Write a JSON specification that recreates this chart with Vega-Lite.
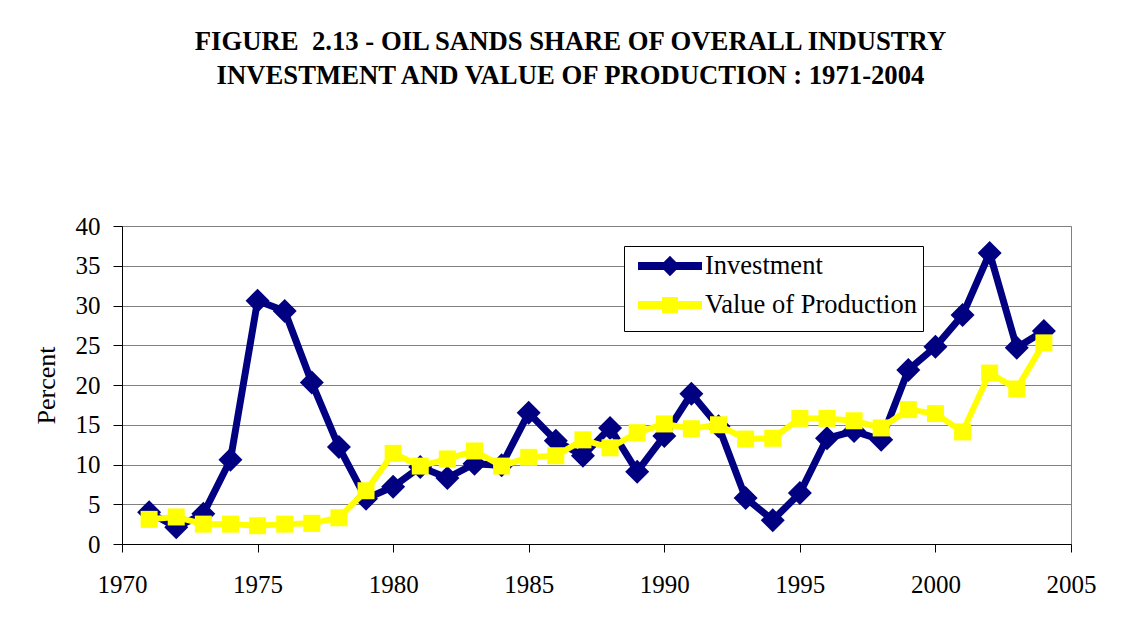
{
  "$schema": "https://vega.github.io/schema/vega-lite/v6.json",
  "autosize": {"type": "none"},
  "padding": {"left": 122, "top": 226, "right": 61, "bottom": 91},
  "width": 949,
  "height": 318,
  "background": "white",
  "title": {
    "text": ["FIGURE\u00a0 2.13 - OIL SANDS SHARE OF OVERALL INDUSTRY", "INVESTMENT AND VALUE OF PRODUCTION : 1971-2004"],
    "font": "Liberation Serif",
    "fontSize": 26.7,
    "fontWeight": "bold",
    "color": "black",
    "lineHeight": 34,
    "anchor": "middle",
    "dx": -26,
    "offset": 124
  },
  "config": {
    "view": {"stroke": "#808080", "strokeWidth": 1},
    "axis": {
      "labelFont": "Liberation Serif",
      "labelFontSize": 25,
      "labelColor": "black",
      "titleFont": "Liberation Serif",
      "titleFontSize": 26,
      "titleFontWeight": "normal",
      "titleColor": "black",
      "domainColor": "black",
      "tickColor": "black",
      "domainWidth": 1,
      "tickWidth": 1
    }
  },
  "data": {
    "values": [
      {"year": 1971, "series": "Investment", "value": 4.0},
      {"year": 1972, "series": "Investment", "value": 2.1},
      {"year": 1973, "series": "Investment", "value": 3.8},
      {"year": 1974, "series": "Investment", "value": 10.6},
      {"year": 1975, "series": "Investment", "value": 30.6},
      {"year": 1976, "series": "Investment", "value": 29.3},
      {"year": 1977, "series": "Investment", "value": 20.3},
      {"year": 1978, "series": "Investment", "value": 12.2},
      {"year": 1979, "series": "Investment", "value": 5.7},
      {"year": 1980, "series": "Investment", "value": 7.2},
      {"year": 1981, "series": "Investment", "value": 9.7},
      {"year": 1982, "series": "Investment", "value": 8.3},
      {"year": 1983, "series": "Investment", "value": 10.1},
      {"year": 1984, "series": "Investment", "value": 9.9},
      {"year": 1985, "series": "Investment", "value": 16.5},
      {"year": 1986, "series": "Investment", "value": 13.0},
      {"year": 1987, "series": "Investment", "value": 11.1},
      {"year": 1988, "series": "Investment", "value": 14.6},
      {"year": 1989, "series": "Investment", "value": 9.1},
      {"year": 1990, "series": "Investment", "value": 13.6},
      {"year": 1991, "series": "Investment", "value": 18.9},
      {"year": 1992, "series": "Investment", "value": 14.8},
      {"year": 1993, "series": "Investment", "value": 5.8},
      {"year": 1994, "series": "Investment", "value": 3.0},
      {"year": 1995, "series": "Investment", "value": 6.4},
      {"year": 1996, "series": "Investment", "value": 13.3},
      {"year": 1997, "series": "Investment", "value": 14.2},
      {"year": 1998, "series": "Investment", "value": 13.1},
      {"year": 1999, "series": "Investment", "value": 21.9},
      {"year": 2000, "series": "Investment", "value": 24.8},
      {"year": 2001, "series": "Investment", "value": 28.8},
      {"year": 2002, "series": "Investment", "value": 36.6},
      {"year": 2003, "series": "Investment", "value": 24.7},
      {"year": 2004, "series": "Investment", "value": 26.8},
      {"year": 1971, "series": "Value of Production", "value": 3.1},
      {"year": 1972, "series": "Value of Production", "value": 3.4},
      {"year": 1973, "series": "Value of Production", "value": 2.5},
      {"year": 1974, "series": "Value of Production", "value": 2.5},
      {"year": 1975, "series": "Value of Production", "value": 2.3},
      {"year": 1976, "series": "Value of Production", "value": 2.5},
      {"year": 1977, "series": "Value of Production", "value": 2.6},
      {"year": 1978, "series": "Value of Production", "value": 3.3},
      {"year": 1979, "series": "Value of Production", "value": 6.7},
      {"year": 1980, "series": "Value of Production", "value": 11.4},
      {"year": 1981, "series": "Value of Production", "value": 9.8},
      {"year": 1982, "series": "Value of Production", "value": 10.7},
      {"year": 1983, "series": "Value of Production", "value": 11.7},
      {"year": 1984, "series": "Value of Production", "value": 9.8},
      {"year": 1985, "series": "Value of Production", "value": 10.9},
      {"year": 1986, "series": "Value of Production", "value": 11.1},
      {"year": 1987, "series": "Value of Production", "value": 13.1},
      {"year": 1988, "series": "Value of Production", "value": 12.1},
      {"year": 1989, "series": "Value of Production", "value": 14.0},
      {"year": 1990, "series": "Value of Production", "value": 15.1},
      {"year": 1991, "series": "Value of Production", "value": 14.5},
      {"year": 1992, "series": "Value of Production", "value": 15.0},
      {"year": 1993, "series": "Value of Production", "value": 13.2},
      {"year": 1994, "series": "Value of Production", "value": 13.3},
      {"year": 1995, "series": "Value of Production", "value": 15.8},
      {"year": 1996, "series": "Value of Production", "value": 15.8},
      {"year": 1997, "series": "Value of Production", "value": 15.5},
      {"year": 1998, "series": "Value of Production", "value": 14.6},
      {"year": 1999, "series": "Value of Production", "value": 16.9},
      {"year": 2000, "series": "Value of Production", "value": 16.4},
      {"year": 2001, "series": "Value of Production", "value": 14.1},
      {"year": 2002, "series": "Value of Production", "value": 21.5},
      {"year": 2003, "series": "Value of Production", "value": 19.5},
      {"year": 2004, "series": "Value of Production", "value": 25.3}
    ]
  },
  "encoding": {
    "x": {
      "field": "year",
      "type": "quantitative",
      "scale": {"domain": [1970, 2005], "nice": false, "zero": false},
      "axis": {
        "title": null,
        "values": [1970, 1975, 1980, 1985, 1990, 1995, 2000, 2005],
        "format": "d",
        "grid": false,
        "tickSize": 8,
        "labelPadding": 20,
        "labelFlush": false,
        "labelOverlap": false
      }
    },
    "y": {
      "field": "value",
      "type": "quantitative",
      "scale": {"domain": [0, 40], "nice": false},
      "axis": {
        "title": "Percent",
        "values": [0, 5, 10, 15, 20, 25, 30, 35, 40],
        "grid": true,
        "gridColor": "#808080",
        "gridOpacity": 1,
        "gridWidth": 1,
        "tickSize": 9,
        "labelPadding": 13,
        "labelFlush": false,
        "labelOverlap": false,
        "titleAngle": -90,
        "titleX": -76,
        "titleY": 159,
        "titleAlign": "center",
        "titleBaseline": "middle"
      }
    }
  },
  "layer": [
    {
      "transform": [{"filter": "datum.series === 'Investment'"}],
      "mark": {"type": "line", "color": "#000080", "strokeWidth": 7}
    },
    {
      "transform": [{"filter": "datum.series === 'Investment'"}],
      "mark": {"type": "point", "shape": "diamond", "filled": true, "color": "#000080", "size": 576, "opacity": 1}
    },
    {
      "transform": [{"filter": "datum.series === 'Value of Production'"}],
      "mark": {"type": "line", "color": "#FFFF00", "strokeWidth": 6}
    },
    {
      "transform": [{"filter": "datum.series === 'Value of Production'"}],
      "mark": {"type": "point", "shape": "square", "filled": true, "color": "#FFFF00", "size": 289, "opacity": 1}
    },
    {
      "mark": {"type": "point", "filled": true, "opacity": 0, "size": 400},
      "encoding": {
        "color": {
          "field": "series",
          "type": "nominal",
          "scale": {"domain": ["Investment", "Value of Production"], "range": ["#000080", "#FFFF00"]},
          "legend": {
            "title": null,
            "orient": "none",
            "legendX": 502,
            "legendY": 20,
            "direction": "vertical",
            "fillColor": "white",
            "strokeColor": "black",
            "padding": 6,
            "rowPadding": -2,
            "symbolSize": 400,
            "symbolStrokeWidth": 8,
            "symbolOpacity": 1,
            "labelOffset": 47,
            "labelFont": "Liberation Serif",
            "labelFontSize": 26.5,
            "labelColor": "black",
            "labelLimit": 400
          }
        },
        "stroke": {
          "field": "series",
          "type": "nominal",
          "scale": {"domain": ["Investment", "Value of Production"], "range": ["#000080", "#FFFF00"]}
        },
        "shape": {
          "field": "series",
          "type": "nominal",
          "scale": {
            "domain": ["Investment", "Value of Production"],
            "range": [
              "M-0.6,0L5.8,0M2.6,-0.45L3.05,0L2.6,0.45L2.15,0Z",
              "M-0.6,0L5.8,0M2.2,-0.4L3.0,-0.4L3.0,0.4L2.2,0.4Z"
            ]
          }
        }
      }
    }
  ]
}
